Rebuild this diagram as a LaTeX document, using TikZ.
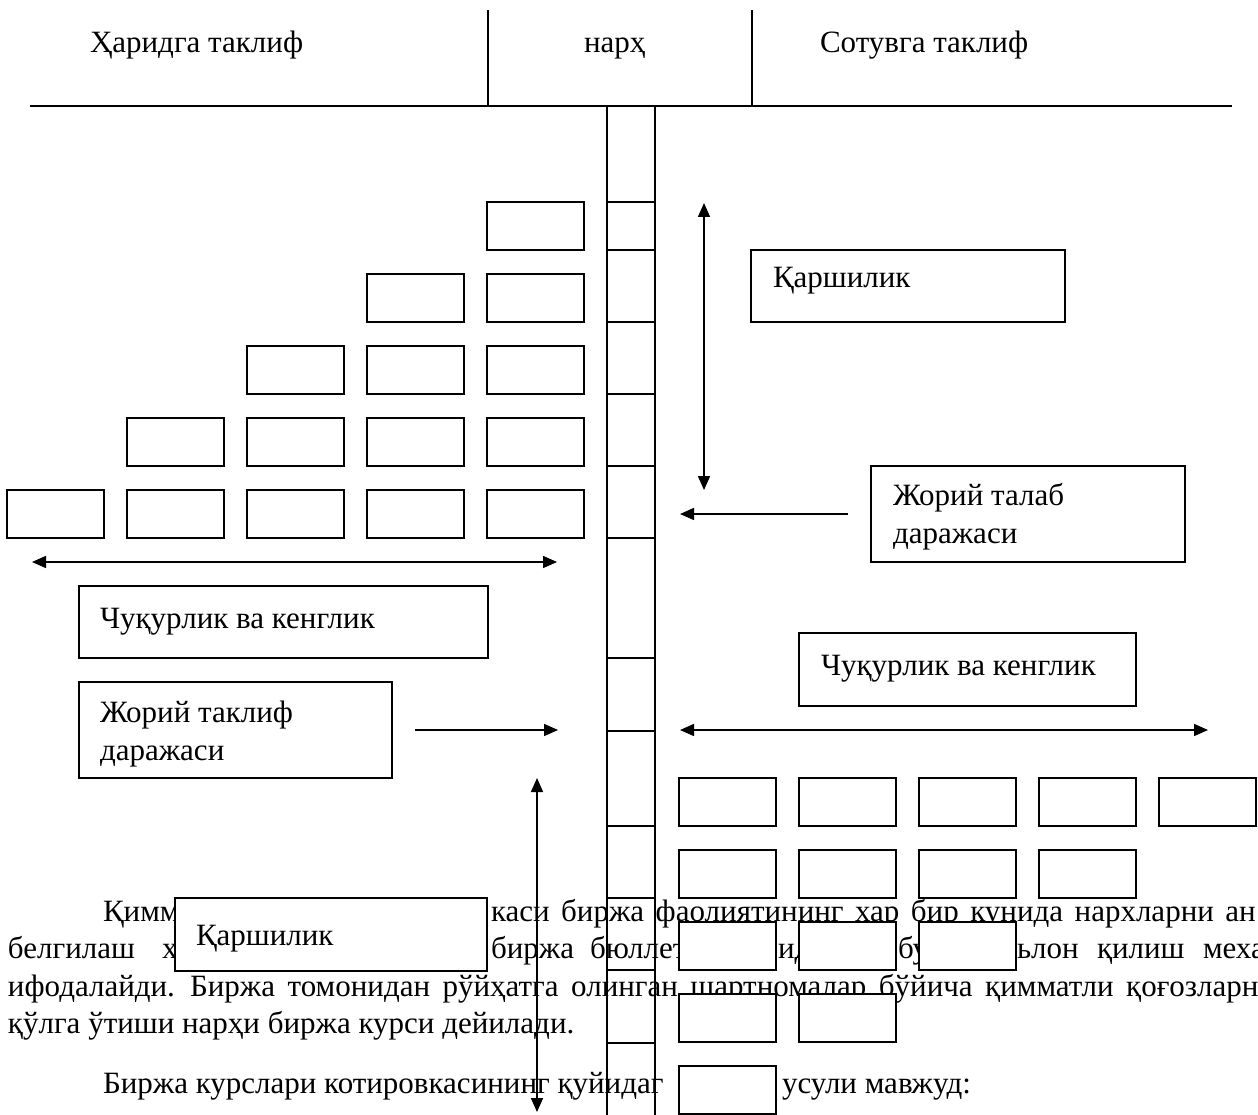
\documentclass[tikz,border=0pt]{standalone}
\usepackage{fontspec}
\setmainfont{Liberation Serif}
\usetikzlibrary{arrows.meta,calc}

\tikzset{
  cell/.style={draw, line width=1.5pt, fill=white, minimum width=97pt,
    minimum height=48pt, inner sep=0pt, outer sep=0pt, anchor=north west},
  tbox/.style={draw, line width=1.5pt, fill=white, inner sep=0pt,
    outer sep=0pt, anchor=north west},
  lbl/.style={anchor=base west, inner sep=0pt, outer sep=0pt,
    font=\fontsize{31}{37}\selectfont},
  just/.style={lbl, execute at begin node={\spaceskip=#1\relax}},
  just/.default=11.5pt,
  colline/.style={line width=1.3pt},
  tip/.tip={Triangle[length=14pt,width=12pt]},
  arr/.style={line width=1.5pt, -tip},
  darr/.style={line width=1.5pt, tip-tip},
}

\begin{document}
\begin{tikzpicture}[x=1pt, y=-1pt]
\useasboundingbox (0,0) rectangle (1258,1115);

% ---------- running text of the page ----------
\node[lbl] (p1a) at (103,921) {Қимм};
\node[just] (p1b) at (491,921) {каси биржа фаолиятининг хар бир кунида нархларни ан};
\foreach \px/\w [count=\i] in {8/белгилаш, 162/х, 491/биржа, 590/бюллет,
    778/ид, 898/бу, 1017/ьлон, 1097/қилиш, 1203/меха}
  \node[lbl] (p2w\i) at (\px,958) {\w};
\node[just=12.5pt] (p3) at (8,996)
  {ифодалайди. Биржа томонидан рўйҳатга олинган шартномалар бўйича қимматли қоғозларн};
\node[lbl] (p4) at (8,1033) {қўлга ўтиши нарҳи биржа курси дейилади.};
\node[lbl] (p5a) at (103,1093) {Биржа курслари котировкасининг қуйидаг};
\node[lbl] (p5b) at (782,1093) {усули мавжуд:};

% ---------- header ----------
\node[lbl] (hbuy) at (90,53) {Ҳаридга таклиф};
\node[lbl] (hprice) at (584,53) {нарҳ};
\node[lbl] (hsell) at (820,53) {Сотувга таклиф};
\draw[line width=2pt] (30,106) -- (1232,106);
\draw[colline] (488,10) -- (488,106);
\draw[colline] (752,10) -- (752,106);

% ---------- price ladder ----------
\draw[colline] (607,106) -- (607,1120);
\draw[colline] (655,106) -- (655,1120);
\foreach \y in {202,250,322,394,466,538,658,731,826,898,970,1043}
  \draw[colline] (607,\y) -- (655,\y);

% ---------- buy orders (left stack): row/column/left/top ----------
\foreach \r/\c/\lx/\top in {1/5/487/202,
    2/4/367/274, 2/5/487/274,
    3/3/247/346, 3/4/367/346, 3/5/487/346,
    4/2/127/418, 4/3/247/418, 4/4/367/418, 4/5/487/418,
    5/1/7/490, 5/2/127/490, 5/3/247/490, 5/4/367/490, 5/5/487/490}
  \node[cell] (b\r\c) at (\lx,\top) {};

% ---------- sell orders (right stack) ----------
\foreach \r/\c/\lx/\top in {1/1/679/778, 1/2/799/778, 1/3/919/778, 1/4/1039/778, 1/5/1159/778,
    2/1/679/850, 2/2/799/850, 2/3/919/850, 2/4/1039/850,
    3/1/679/922, 3/2/799/922, 3/3/919/922,
    4/1/679/994, 4/2/799/994,
    5/1/679/1066}
  \node[cell] (s\r\c) at (\lx,\top) {};

% ---------- labelled boxes ----------
\node[tbox, minimum width=314pt, minimum height=72pt] (resTop) at (751,250) {};
\node[lbl] (resTopT) at (773,288) {Қаршилик};

\node[tbox, minimum width=314pt, minimum height=96pt] (demand) at (871,466) {};
\node[lbl] (demandT1) at (893,505) {Жорий талаб};
\node[lbl] (demandT2) at (893,543) {даражаси};

\node[tbox, minimum width=409pt, minimum height=72pt] (depthL) at (79,586) {};
\node[lbl] (depthLT) at (100,628) {Чуқурлик ва кенглик};

\node[tbox, minimum width=313pt, minimum height=96pt] (offer) at (79,682) {};
\node[lbl] (offerT1) at (100,722) {Жорий таклиф};
\node[lbl] (offerT2) at (100,760) {даражаси};

\node[tbox, minimum width=337pt, minimum height=73pt] (depthR) at (799,633) {};
\node[lbl] (depthRT) at (821,675) {Чуқурлик ва кенглик};

\node[tbox, minimum width=312pt, minimum height=73pt] (resBot) at (175,898) {};
\node[lbl] (resBotT) at (196,945) {Қаршилик};

% ---------- arrows ----------
\coordinate (rvA) at (704,203);
\coordinate (rvB) at (704,490);
\draw[darr] (rvA) -- (rvB);

\coordinate (demTail) at (848,514);
\coordinate (demHead) at (680,514);
\draw[arr] (demTail) -- (demHead);

\coordinate (lhA) at (32,562);
\coordinate (lhB) at (557,562);
\draw[darr] (lhA) -- (lhB);

\coordinate (offTail) at (415,730);
\coordinate (offHead) at (558,730);
\draw[arr] (offTail) -- (offHead);

\coordinate (rhA) at (680,730);
\coordinate (rhB) at (1208,730);
\draw[darr] (rhA) -- (rhB);

\coordinate (lvA) at (537,778);
\coordinate (lvB) at (537,1112);
\draw[darr] (lvA) -- (lvB);
\end{tikzpicture}
\end{document}
